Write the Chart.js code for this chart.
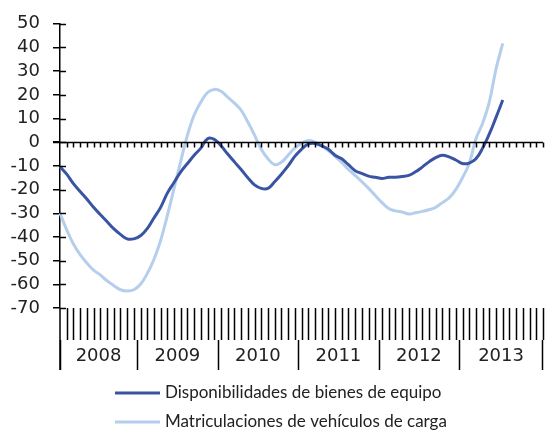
<!DOCTYPE html>
<html>
<head>
<meta charset="utf-8">
<script src="https://cdn.jsdelivr.net/npm/chart.js@4.4.0/dist/chart.umd.min.js"></script>
<style>
  html, body { margin: 0; padding: 0; background: #fff; }
  canvas { display: block; }
</style>
</head>
<body>
<canvas id="chart" width="546" height="430"></canvas>
<script>
// Year groups shown under the axis
const years = ['2008', '2009', '2010', '2011', '2012', '2013'];

// Monthly categories, Jan 2008 through Jan 2014 (axis end)
const monthLabels = [];
years.forEach(function (yr) {
  for (let m = 1; m <= 12; m++) monthLabels.push(yr + '-' + String(m).padStart(2, '0'));
});
monthLabels.push('2014-01');

// Disponibilidades de bienes de equipo (% tasa interanual), Jan 2008 - Jul 2013
const equipo = [
  -10.4, -13.5, -17.5, -20.8, -24, -27.5, -30.5, -33.5, -36.5, -38.9,
  -40.8, -40.8, -39.5, -36.5, -32, -27.5, -21.5, -17, -12.5, -9,
  -5.5, -2.5, 1.5, 1.2, -1.5, -5, -8.3, -11.5, -15, -18,
  -19.5, -19.5, -16.7, -13.5, -10, -6, -3, -0.8, -0.5, -1.5,
  -3, -5.5, -7, -9.5, -12, -13.2, -14.3, -14.8, -15.3, -14.8,
  -14.8, -14.5, -14, -12.5, -10.5, -8.3, -6.5, -5.5, -6.2, -7.5,
  -9, -8.8, -7, -2.5, 3.5, 10.5, 17.8
];

// Matriculaciones de vehículos de carga (% tasa interanual), Jan 2008 - Jul 2013
const carga = [
  -30, -37, -43, -47.5, -51, -54, -56, -58.5, -60.5, -62.3,
  -62.8, -62.3, -60, -55.5, -49.5, -41.5, -31, -19.5, -8, 3,
  11.5, 17, 21, 22.3, 21.5, 19, 16.5, 13.5, 8.5, 3,
  -3, -7, -9.5, -8.5, -5.5, -2.5, -0.5, 0.7, 0, -1.5,
  -3.5, -6, -8.5, -11.5, -14, -16.7, -19.5, -22.5, -25.5, -28,
  -29, -29.5, -30.3, -29.8, -29.2, -28.5, -27.5, -25.5, -23.5, -20,
  -15, -9, 1.5, 8, 17, 31, 41.7
];

// Value axis ticks
const yMin = -70, yMax = 50, yStep = 10;

const AXIS_COLOR = '#000';
const TEXT_COLOR = '#222';
const TICK_FONT = '18px "DejaVu Sans"';
const LEGEND_FONT = '17px Lato';

// Draws the zero-crossing category axis, the month/year label band and the legend
const axisDecor = {
  id: 'axisDecor',
  afterDraw(chart) {
    const { ctx, chartArea: a, scales } = chart;
    const x = scales.x, y = scales.y;
    const n = chart.data.labels.length;
    const y0 = y.getPixelForValue(0);

    function seg(x1, y1, x2, y2) {
      ctx.beginPath();
      ctx.moveTo(x1, y1);
      ctx.lineTo(x2, y2);
      ctx.stroke();
    }

    ctx.save();
    ctx.strokeStyle = AXIS_COLOR;
    ctx.lineWidth = 1.5;

    // right-hand half of the crossing value ticks
    y.ticks.forEach(function (t) {
      const py = Math.round(y.getPixelForValue(t.value)) + 0.5;
      seg(a.left, py, a.left + 6, py);
    });

    // category axis along zero with small month ticks
    const zy = Math.round(y0) + 0.5;
    seg(a.left - 7, zy, a.right, zy);
    for (let i = 1; i < n; i++) {
      const px = Math.round(x.getPixelForValue(i)) + 0.5;
      seg(px, zy, px, zy + 5);
    }

    // month band below the plot
    const bandTop = a.bottom;
    const bandMid = a.bottom + 32;
    const bandBot = a.bottom + 62;
    seg(a.left, a.bottom, a.left, bandBot);
    for (let i = 1; i < n; i++) {
      const px = Math.round(x.getPixelForValue(i)) + 0.5;
      seg(px, bandTop, px, bandMid);
    }

    // year separators and labels
    ctx.fillStyle = TEXT_COLOR;
    ctx.font = TICK_FONT;
    ctx.textAlign = 'center';
    ctx.textBaseline = 'middle';
    years.forEach(function (yr, k) {
      const start = k === 0 ? a.left
        : (x.getPixelForValue(12 * k - 1) + x.getPixelForValue(12 * k)) / 2;
      const end = k === years.length - 1 ? a.right
        : (x.getPixelForValue(12 * k + 11) + x.getPixelForValue(12 * k + 12)) / 2;
      const sx = Math.round(start) + 0.5;
      seg(sx, bandMid, sx, bandBot);
      if (k === years.length - 1) {
        const ex = Math.round(end) - 0.5;
        seg(ex, bandMid, ex, bandBot);
      }
      ctx.fillText(yr, (start + end) / 2, a.bottom + 48);
    });

    // legend: one entry per line
    ctx.font = LEGEND_FONT;
    ctx.textAlign = 'left';
    const rows = [393, 422];
    chart.data.datasets.forEach(function (ds, i) {
      const ly = rows[i];
      ctx.strokeStyle = ds.borderColor;
      ctx.lineWidth = 3;
      seg(115, ly, 160, ly);
      ctx.fillStyle = TEXT_COLOR;
      ctx.fillText(ds.label, 165, ly);
    });
    ctx.restore();
  }
};

new Chart(document.getElementById('chart').getContext('2d'), {
  type: 'line',
  data: {
    labels: monthLabels,
    datasets: [
      {
        label: 'Disponibilidades de bienes de equipo',
        data: equipo,
        borderColor: '#3A54A4',
        borderWidth: 3,
        pointRadius: 0,
        fill: false,
        tension: 0.4
      },
      {
        label: 'Matriculaciones de vehículos de carga',
        data: carga,
        borderColor: '#B5CEEC',
        borderWidth: 3,
        pointRadius: 0,
        fill: false,
        tension: 0.4
      }
    ]
  },
  options: {
    responsive: false,
    animation: false,
    devicePixelRatio: 1,
    layout: { padding: { left: 0, top: 20, right: 3, bottom: 122 } },
    plugins: {
      legend: { display: false },
      tooltip: { enabled: false }
    },
    scales: {
      x: { type: 'category', display: false, offset: false },
      y: {
        min: yMin,
        max: yMax,
        ticks: {
          stepSize: yStep,
          autoSkip: false,
          padding: 13,
          color: TEXT_COLOR,
          font: { family: '"DejaVu Sans"', size: 18 }
        },
        grid: {
          drawOnChartArea: false,
          drawTicks: true,
          tickLength: 7,
          color: AXIS_COLOR,
          lineWidth: 1.5
        },
        border: { display: true, color: AXIS_COLOR, width: 1.5 },
        afterFit(scale) { scale.width = 60; }
      }
    }
  },
  plugins: [axisDecor]
});
</script>
</body>
</html>
